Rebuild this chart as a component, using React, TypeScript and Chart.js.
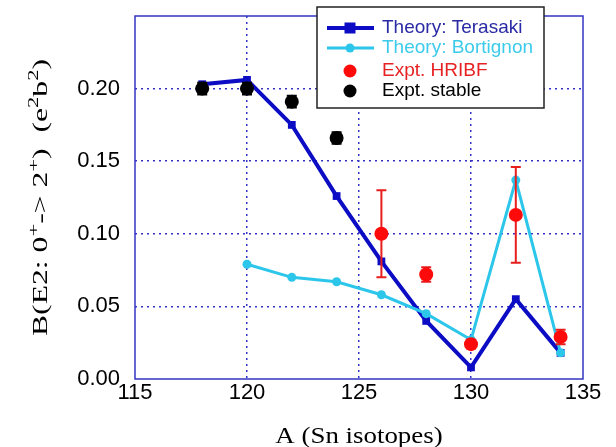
import React, { useEffect, useRef } from "react";
import { Chart, registerables } from "chart.js";

Chart.register(...registerables);

// ---- data ----
const terasakiA = [118, 120, 122, 124, 126, 128, 130, 132, 134];
const terasakiB = [0.203, 0.206, 0.175, 0.126, 0.081, 0.040, 0.008, 0.055, 0.018];

const bortignonA = [120, 122, 124, 126, 128, 130, 132, 134];
const bortignonB = [0.079, 0.070, 0.067, 0.058, 0.045, 0.027, 0.137, 0.018];

const hribfA = [126, 128, 130, 132, 134];
const hribfB = [0.100, 0.072, 0.024, 0.113, 0.029];
const hribfErr = [0.030, 0.005, 0.003, 0.033, 0.005];

const stableA = [118, 120, 122, 124];
const stableB = [0.200, 0.200, 0.191, 0.166];
const stableErr = [0.004, 0.004, 0.004, 0.004];

const xTicksMin = 115;
const xTicksMax = 135;
const yTicksMin = 0;
const yTicksMax = 0.25;

const seriesLabels = [
  "Theory: Terasaki",
  "Theory: Bortignon",
  "Expt. HRIBF",
  "Expt. stable",
];

const xTitle = "A (Sn isotopes)";
// y title pieces: [text, isSuperscript]
const yTitleParts: [string, boolean][] = [
  ["B(E2: 0", false],
  ["+", true],
  ["-> 2", false],
  ["+", true],
  [")  (e", false],
  ["2", true],
  ["b", false],
  ["2", true],
  [")", false],
];

const DARK_BLUE = "#0c0cc4";
const CYAN = "#2cc6ea";
const RED = "#ff0a0a";
const BLACK = "#000000";
const FRAME = "#3434c4";
const LEGEND_TEXT = ["#2a2aa6", "#3ccbea", "#e62222", "#000000"];
const SERIF = "'Liberation Serif', 'Times New Roman', serif";
const SANS = "'Liberation Sans', Arial, sans-serif";

const toXY = (xs: number[], ys: number[]) => xs.map((x, i) => ({ x, y: ys[i] }));

const errorBarPlugin = {
  id: "errorBars",
  beforeDatasetDraw(chart: any, args: any) {
    const ds = chart.data.datasets[args.index];
    if (!ds.errors) return;
    const { ctx, scales } = chart;
    ctx.save();
    ctx.strokeStyle = ds.errorColor;
    ctx.lineWidth = 2;
    ds.data.forEach((p: any, i: number) => {
      const e = ds.errors[i];
      const x = scales.x.getPixelForValue(p.x);
      const y1 = scales.y.getPixelForValue(p.y + e);
      const y2 = scales.y.getPixelForValue(p.y - e);
      ctx.beginPath();
      ctx.moveTo(x, y1);
      ctx.lineTo(x, y2);
      ctx.moveTo(x - 5, y1);
      ctx.lineTo(x + 5, y1);
      ctx.moveTo(x - 5, y2);
      ctx.lineTo(x + 5, y2);
      ctx.stroke();
    });
    ctx.restore();
  },
};

const framePlugin = {
  id: "frame",
  beforeDatasetsDraw(chart: any) {
    const { ctx, chartArea: a } = chart;
    ctx.save();
    ctx.strokeStyle = FRAME;
    ctx.lineWidth = 1.5;
    ctx.strokeRect(a.left, a.top, a.right - a.left, a.bottom - a.top);
    ctx.restore();
  },
};

const titlesPlugin = {
  id: "titles",
  afterDraw(chart: any) {
    const { ctx, chartArea: a } = chart;
    ctx.save();
    // x title
    ctx.fillStyle = "#000";
    ctx.font = `24px ${SERIF}`;
    ctx.textAlign = "center";
    ctx.textBaseline = "alphabetic";
    ctx.save();
    ctx.translate((a.left + a.right) / 2, 443);
    ctx.scale(1.12, 1);
    ctx.fillText(xTitle, 0, 0);
    ctx.restore();
    // y title, rotated
    const mainFont = `21px ${SERIF}`;
    const supFont = `15px ${SERIF}`;
    let total = 0;
    const widths = yTitleParts.map(([t, sup]) => {
      ctx.font = sup ? supFont : mainFont;
      const w = ctx.measureText(t).width;
      total += w;
      return w;
    });
    const target = 277;
    const sx = target / total;
    ctx.translate(47, (a.top + a.bottom) / 2);
    ctx.rotate(-Math.PI / 2);
    ctx.scale(sx, 1);
    ctx.textAlign = "left";
    let x = -total / 2;
    yTitleParts.forEach(([t, sup], i) => {
      ctx.font = sup ? supFont : mainFont;
      ctx.fillText(t, x, sup ? -9 : 0);
      x += widths[i];
    });
    ctx.restore();
  },
};

const legendPlugin = {
  id: "customLegend",
  afterDraw(chart: any) {
    const { ctx } = chart;
    const bx = 317, by = 7, bw = 227, bh = 101;
    ctx.save();
    ctx.fillStyle = "#ffffff";
    ctx.fillRect(bx, by, bw, bh);
    ctx.strokeStyle = "#222222";
    ctx.lineWidth = 1.5;
    ctx.strokeRect(bx, by, bw, bh);
    const rows = [28, 48, 71, 91];
    ctx.font = `19px ${SANS}`;
    ctx.textBaseline = "middle";
    ctx.textAlign = "left";
    chart.data.datasets.forEach((ds: any, i: number) => {
      const y = rows[i];
      const cx = 350;
      if (ds.showLine) {
        ctx.strokeStyle = ds.borderColor;
        ctx.lineWidth = ds.borderWidth;
        ctx.beginPath();
        ctx.moveTo(327, y);
        ctx.lineTo(374, y);
        ctx.stroke();
      }
      ctx.fillStyle = ds.pointBackgroundColor;
      if (ds.pointStyle === "rect") {
        const r = ds.pointRadius;
        ctx.fillRect(cx - r, y - r, 2 * r, 2 * r);
      } else {
        ctx.beginPath();
        ctx.arc(cx, y, ds.showLine ? ds.pointRadius : 6.5, 0, Math.PI * 2);
        ctx.fill();
      }
      ctx.fillStyle = LEGEND_TEXT[i];
      ctx.fillText(ds.label, 382, y);
    });
    ctx.restore();
  },
};

export default function App() {
  const ref = useRef<HTMLCanvasElement>(null);
  useEffect(() => {
    document.body.style.margin = "0";
    const chart = new Chart(ref.current!, {
      type: "scatter",
      data: {
        datasets: [
          {
            label: seriesLabels[0],
            data: toXY(terasakiA, terasakiB),
            showLine: true,
            borderColor: DARK_BLUE,
            borderWidth: 4,
            pointStyle: "rect",
            pointRadius: 5.5,
            pointBackgroundColor: DARK_BLUE,
            pointBorderColor: DARK_BLUE,
            pointBorderWidth: 0,
            order: 4,
          },
          {
            label: seriesLabels[1],
            data: toXY(bortignonA, bortignonB),
            showLine: true,
            borderColor: CYAN,
            borderWidth: 3,
            pointStyle: "circle",
            pointRadius: 4.5,
            pointBackgroundColor: CYAN,
            pointBorderColor: CYAN,
            pointBorderWidth: 0,
            order: 3,
          },
          {
            label: seriesLabels[2],
            data: toXY(hribfA, hribfB),
            showLine: false,
            pointStyle: "circle",
            pointRadius: 7,
            pointBackgroundColor: RED,
            pointBorderColor: RED,
            pointBorderWidth: 0,
            errors: hribfErr,
            errorColor: "#e81e1e",
            order: 2,
          } as any,
          {
            label: seriesLabels[3],
            data: toXY(stableA, stableB),
            showLine: false,
            pointStyle: "circle",
            pointRadius: 7,
            pointBackgroundColor: BLACK,
            pointBorderColor: BLACK,
            pointBorderWidth: 0,
            errors: stableErr,
            errorColor: BLACK,
            order: 1,
          } as any,
        ],
      },
      options: {
        animation: false,
        responsive: false,
        maintainAspectRatio: false,
        layout: { padding: { top: 16, right: 33, left: 0, bottom: 0 } },
        plugins: {
          legend: { display: false },
          tooltip: { enabled: false },
        },
        scales: {
          x: {
            type: "linear",
            min: xTicksMin,
            max: xTicksMax,
            afterFit: (s: any) => {
              s.height = 68;
              s.paddingLeft = 0;
              s.paddingRight = 0;
            },
            ticks: {
              stepSize: 5,
              padding: 1,
              color: "#000",
              font: { family: SANS, size: 22 },
              callback: (v: any) => String(v),
            },
            grid: {
              drawTicks: false,
              color: (c: any) =>
                c.tick && (c.tick.value === xTicksMin || c.tick.value === xTicksMax)
                  ? "rgba(0,0,0,0)"
                  : FRAME,
              lineWidth: 1.5,
            },
            border: { display: false, dash: [2, 4] },
          },
          y: {
            type: "linear",
            min: yTicksMin,
            max: yTicksMax,
            afterFit: (s: any) => {
              s.width = 135;
              s.paddingTop = 0;
              s.paddingBottom = 0;
            },
            ticks: {
              stepSize: 0.05,
              padding: 15,
              color: "#000",
              font: { family: SANS, size: 22 },
              callback: (v: any) => (v > 0.2001 ? "" : Number(v).toFixed(2)),
            },
            grid: {
              drawTicks: false,
              color: (c: any) =>
                c.tick && (Math.abs(c.tick.value - yTicksMin) < 1e-9 || Math.abs(c.tick.value - yTicksMax) < 1e-9)
                  ? "rgba(0,0,0,0)"
                  : FRAME,
              lineWidth: 1.5,
            },
            border: { display: false, dash: [2, 4] },
          },
        },
      },
      plugins: [framePlugin, errorBarPlugin, titlesPlugin, legendPlugin],
    });
    return () => chart.destroy();
  }, []);
  return (
    <div style={{ width: 616, height: 447 }}>
      <canvas ref={ref} width={616} height={447} />
    </div>
  );
}
